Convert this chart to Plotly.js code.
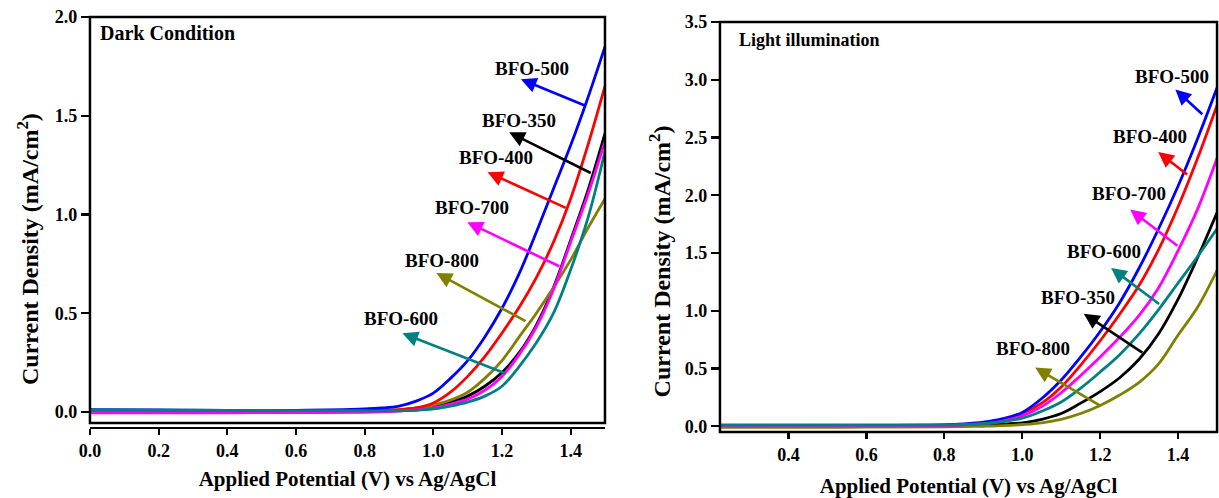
<!DOCTYPE html>
<html><head><meta charset="utf-8">
<script src="https://cdn.plot.ly/plotly-3.0.1.min.js"></script>
<style>body{margin:0;background:#fff}#chart{width:1219px;height:498px}</style>
</head><body><div id="chart"></div>
<script>
// ---------- Data: Dark condition ----------
const darkX   = [0, 0.2, 0.4, 0.6, 0.8, 0.85, 0.9, 0.95, 1.0, 1.05, 1.1, 1.15, 1.2, 1.25, 1.3, 1.35, 1.4, 1.45, 1.5];
const dark350 = [0.004,0.004,0.003,0.003,0.005,0.006,0.008,0.015,0.03,0.05,0.08,0.13,0.20,0.30,0.44,0.63,0.87,1.12,1.41];
const dark400 = [0.005,0.004,0.003,0.003,0.006,0.009,0.012,0.02,0.045,0.10,0.18,0.28,0.40,0.53,0.68,0.86,1.08,1.35,1.65];
const dark500 = [0.012,0.010,0.008,0.008,0.015,0.02,0.03,0.055,0.095,0.17,0.26,0.38,0.525,0.70,0.91,1.13,1.35,1.59,1.85];
const dark600 = [0.010,0.009,0.008,0.007,0.006,0.005,0.006,0.008,0.015,0.03,0.05,0.08,0.13,0.23,0.35,0.50,0.72,0.98,1.32];
const dark700 = [-0.004,-0.004,-0.004,-0.003,-0.002,0.0,0.004,0.01,0.02,0.04,0.065,0.11,0.18,0.29,0.43,0.62,0.86,1.10,1.37];
const dark800 = [0.004,0.004,0.003,0.003,0.005,0.007,0.01,0.02,0.035,0.06,0.10,0.17,0.26,0.38,0.50,0.63,0.77,0.93,1.08];

// ---------- Data: Light illumination ----------
const lightX   = [0.225, 0.4, 0.6, 0.8, 0.85, 0.9, 0.95, 1.0, 1.05, 1.1, 1.15, 1.2, 1.25, 1.3, 1.35, 1.4, 1.45, 1.5];
const light350 = [0.005,0.005,0.005,0.006,0.007,0.01,0.018,0.03,0.06,0.11,0.20,0.30,0.42,0.58,0.80,1.10,1.46,1.85];
const light400 = [0.005,0.006,0.008,0.01,0.015,0.028,0.055,0.11,0.20,0.34,0.53,0.74,0.97,1.22,1.53,1.90,2.32,2.78];
const light500 = [0.01,0.01,0.01,0.012,0.02,0.035,0.065,0.12,0.24,0.40,0.60,0.82,1.07,1.37,1.71,2.08,2.49,2.93];
const light600 = [0.01,0.01,0.01,0.012,0.015,0.022,0.04,0.07,0.13,0.21,0.33,0.47,0.62,0.80,1.01,1.24,1.47,1.71];
const light700 = [0.0,0.002,0.005,0.008,0.012,0.022,0.045,0.09,0.17,0.29,0.44,0.60,0.77,0.96,1.20,1.52,1.88,2.32];
const light800 = [-0.01,-0.01,-0.008,-0.005,-0.003,0.0,0.005,0.015,0.03,0.06,0.11,0.18,0.27,0.38,0.54,0.79,1.03,1.35];

const seriesColors = {'BFO-350':'#000000','BFO-400':'#ff0000','BFO-500':'#0000ff','BFO-600':'#008080','BFO-700':'#ff00ff','BFO-800':'#808000'};
const xTicksDark  = [0.0,0.2,0.4,0.6,0.8,1.0,1.2,1.4];
const xTicksLight = [0.4,0.6,0.8,1.0,1.2,1.4];
const yTicksDark  = [0.0,0.5,1.0,1.5,2.0];
const yTicksLight = [0.0,0.5,1.0,1.5,2.0,2.5,3.0,3.5];
const xTitle = 'Applied Potential (V) vs Ag/AgCl';
const yTitle = 'Current Density (mA/cm<sup>2</sup>)';

const darkY  = {'BFO-350':dark350,'BFO-400':dark400,'BFO-500':dark500,'BFO-600':dark600,'BFO-700':dark700,'BFO-800':dark800};
const lightY = {'BFO-350':light350,'BFO-400':light400,'BFO-500':light500,'BFO-600':light600,'BFO-700':light700,'BFO-800':light800};

const FONT = 'Liberation Serif, Times New Roman, serif';
const order = ['BFO-350','BFO-800','BFO-400','BFO-500','BFO-700','BFO-600'];
const traces = [];
order.forEach(n => traces.push({x: darkX, y: darkY[n], xaxis:'x', yaxis:'y', mode:'lines', name:n,
  line:{color:seriesColors[n], width:2.8, shape:'spline', smoothing:1.0}, showlegend:false, hoverinfo:'skip'}));
order.forEach(n => traces.push({x: lightX, y: lightY[n], xaxis:'x2', yaxis:'y2', mode:'lines', name:n,
  line:{color:seriesColors[n], width:2.8, shape:'spline', smoothing:1.0}, showlegend:false, hoverinfo:'skip'}));

// label positions + arrow (head, tail) for each panel
const darkLabels = [
  {n:'BFO-500', tx:1.288, ty:1.737, hx:1.255, hy:1.685, sx:1.444, sy:1.55},
  {n:'BFO-350', tx:1.250, ty:1.475, hx:1.221, hy:1.416, sx:1.463, sy:1.206},
  {n:'BFO-400', tx:1.182, ty:1.289, hx:1.158, hy:1.214, sx:1.390, sy:1.03},
  {n:'BFO-700', tx:1.113, ty:1.037, hx:1.099, hy:0.961, sx:1.371, sy:0.734},
  {n:'BFO-800', tx:1.026, ty:0.768, hx:1.009, hy:0.704, sx:1.273, sy:0.456},
  {n:'BFO-600', tx:0.906, ty:0.473, hx:0.910, hy:0.398, sx:1.215, sy:0.192}
];
const lightLabels = [
  {n:'BFO-500', tx:1.385, ty:3.024, hx:1.393, hy:2.915, sx:1.466, sy:2.69},
  {n:'BFO-400', tx:1.329, ty:2.505, hx:1.349, hy:2.375, sx:1.427, sy:2.17},
  {n:'BFO-700', tx:1.274, ty:2.015, hx:1.277, hy:1.876, sx:1.402, sy:1.552},
  {n:'BFO-600', tx:1.210, ty:1.509, hx:1.228, hy:1.371, sx:1.355, sy:1.048},
  {n:'BFO-350', tx:1.142, ty:1.119, hx:1.158, hy:0.975, sx:1.312, sy:0.629},
  {n:'BFO-800', tx:1.028, ty:0.673, hx:1.033, hy:0.508, sx:1.206, sy:0.167}
];

const annotations = [];
function addLabels(list, xr, yr, fs) {
  list.forEach(L => {
    annotations.push({xref:xr, yref:yr, x:L.tx, y:L.ty, text:L.n, showarrow:false,
      font:{family:FONT, size:fs, color:'#000', weight:'bold'}, xanchor:'center', yanchor:'middle'});
    annotations.push({xref:xr, yref:yr, x:L.hx, y:L.hy, axref:xr, ayref:yr, ax:L.sx, ay:L.sy,
      text:'', showarrow:true, arrowhead:2, arrowsize:1.2, arrowwidth:2.6, arrowcolor:seriesColors[L.n], standoff:0, startstandoff:0});
  });
}
addLabels(darkLabels, 'x', 'y', 19);
addLabels(lightLabels, 'x2', 'y2', 19);

annotations.push({xref:'x domain', yref:'y domain', x:0.016, y:0.96, text:'Dark Condition', showarrow:false,
  xanchor:'left', yanchor:'middle', font:{family:FONT, size:20, color:'#000', weight:'bold'}});
annotations.push({xref:'x2 domain', yref:'y2 domain', x:0.034, y:0.956, text:'Light illumination', showarrow:false,
  xanchor:'left', yanchor:'middle', font:{family:FONT, size:18, color:'#000', weight:'bold'}});

// y-axis titles (rotated), placed as in the reference
const yTitleFont = {family:FONT, size:24, color:'#000', weight:'bold'};
annotations.push({xref:'paper', yref:'paper', x:0.023, y:0.50, text:yTitle, textangle:-90, showarrow:false,
  xanchor:'center', yanchor:'middle', font:yTitleFont});
annotations.push({xref:'paper', yref:'paper', x:0.5414, y:0.475, text:yTitle, textangle:-90, showarrow:false,
  xanchor:'center', yanchor:'middle', font:yTitleFont});

const tickFont = {family:FONT, size:18, color:'#000', weight:'bold'};
const titleFont = {family:FONT, size:21, color:'#000', weight:'bold'};

const layout = {
  width:1219, height:498,
  margin:{l:0, r:0, t:0, b:0, autoexpand:false},
  paper_bgcolor:'#fff', plot_bgcolor:'#fff',
  showlegend:false,
  xaxis:{domain:[0.0738,0.4963], anchor:'free', position:0.1406, range:[0,1.5],
    tickvals:xTicksDark, tickformat:'.1f', ticks:'outside', ticklen:6, tickwidth:2.2, tickcolor:'#000',
    showline:true, linewidth:2.5, linecolor:'#000', showgrid:false, zeroline:false, tickfont:tickFont,
    title:{text:xTitle, font:titleFont, standoff:10}},
  yaxis:{domain:[0.1506,0.9659], anchor:'x', range:[-0.056,2.0],
    tickvals:yTicksDark, tickformat:'.1f', ticks:'outside', ticklen:8, tickwidth:2.2, tickcolor:'#000',
    showline:false, showgrid:false, zeroline:false, tickfont:tickFont},
  xaxis2:{domain:[0.5906,0.9984], anchor:'y2', range:[0.224,1.5],
    tickvals:xTicksLight, tickformat:'.1f', ticks:'outside', ticklen:6, tickwidth:2.2, tickcolor:'#000',
    showline:false, showgrid:false, zeroline:false, tickfont:tickFont,
    title:{text:xTitle, font:titleFont, standoff:17}},
  yaxis2:{domain:[0.1325,0.9558], anchor:'x2', range:[-0.05,3.5],
    tickvals:yTicksLight, tickformat:'.1f', ticks:'outside', ticklen:8, tickwidth:2.2, tickcolor:'#000',
    showline:false, showgrid:false, zeroline:false, tickfont:tickFont},
  shapes:[
    {type:'rect', xref:'x domain', yref:'y domain', x0:0, x1:1, y0:0, y1:1, line:{color:'#000', width:2.5}, layer:'above'},
    {type:'rect', xref:'x2 domain', yref:'y2 domain', x0:0, x1:1, y0:0, y1:1, line:{color:'#000', width:2.5}, layer:'above'}
  ],
  annotations: annotations
};

Plotly.newPlot('chart', traces, layout, {staticPlot:true, displayModeBar:false});
</script>
</body></html>
